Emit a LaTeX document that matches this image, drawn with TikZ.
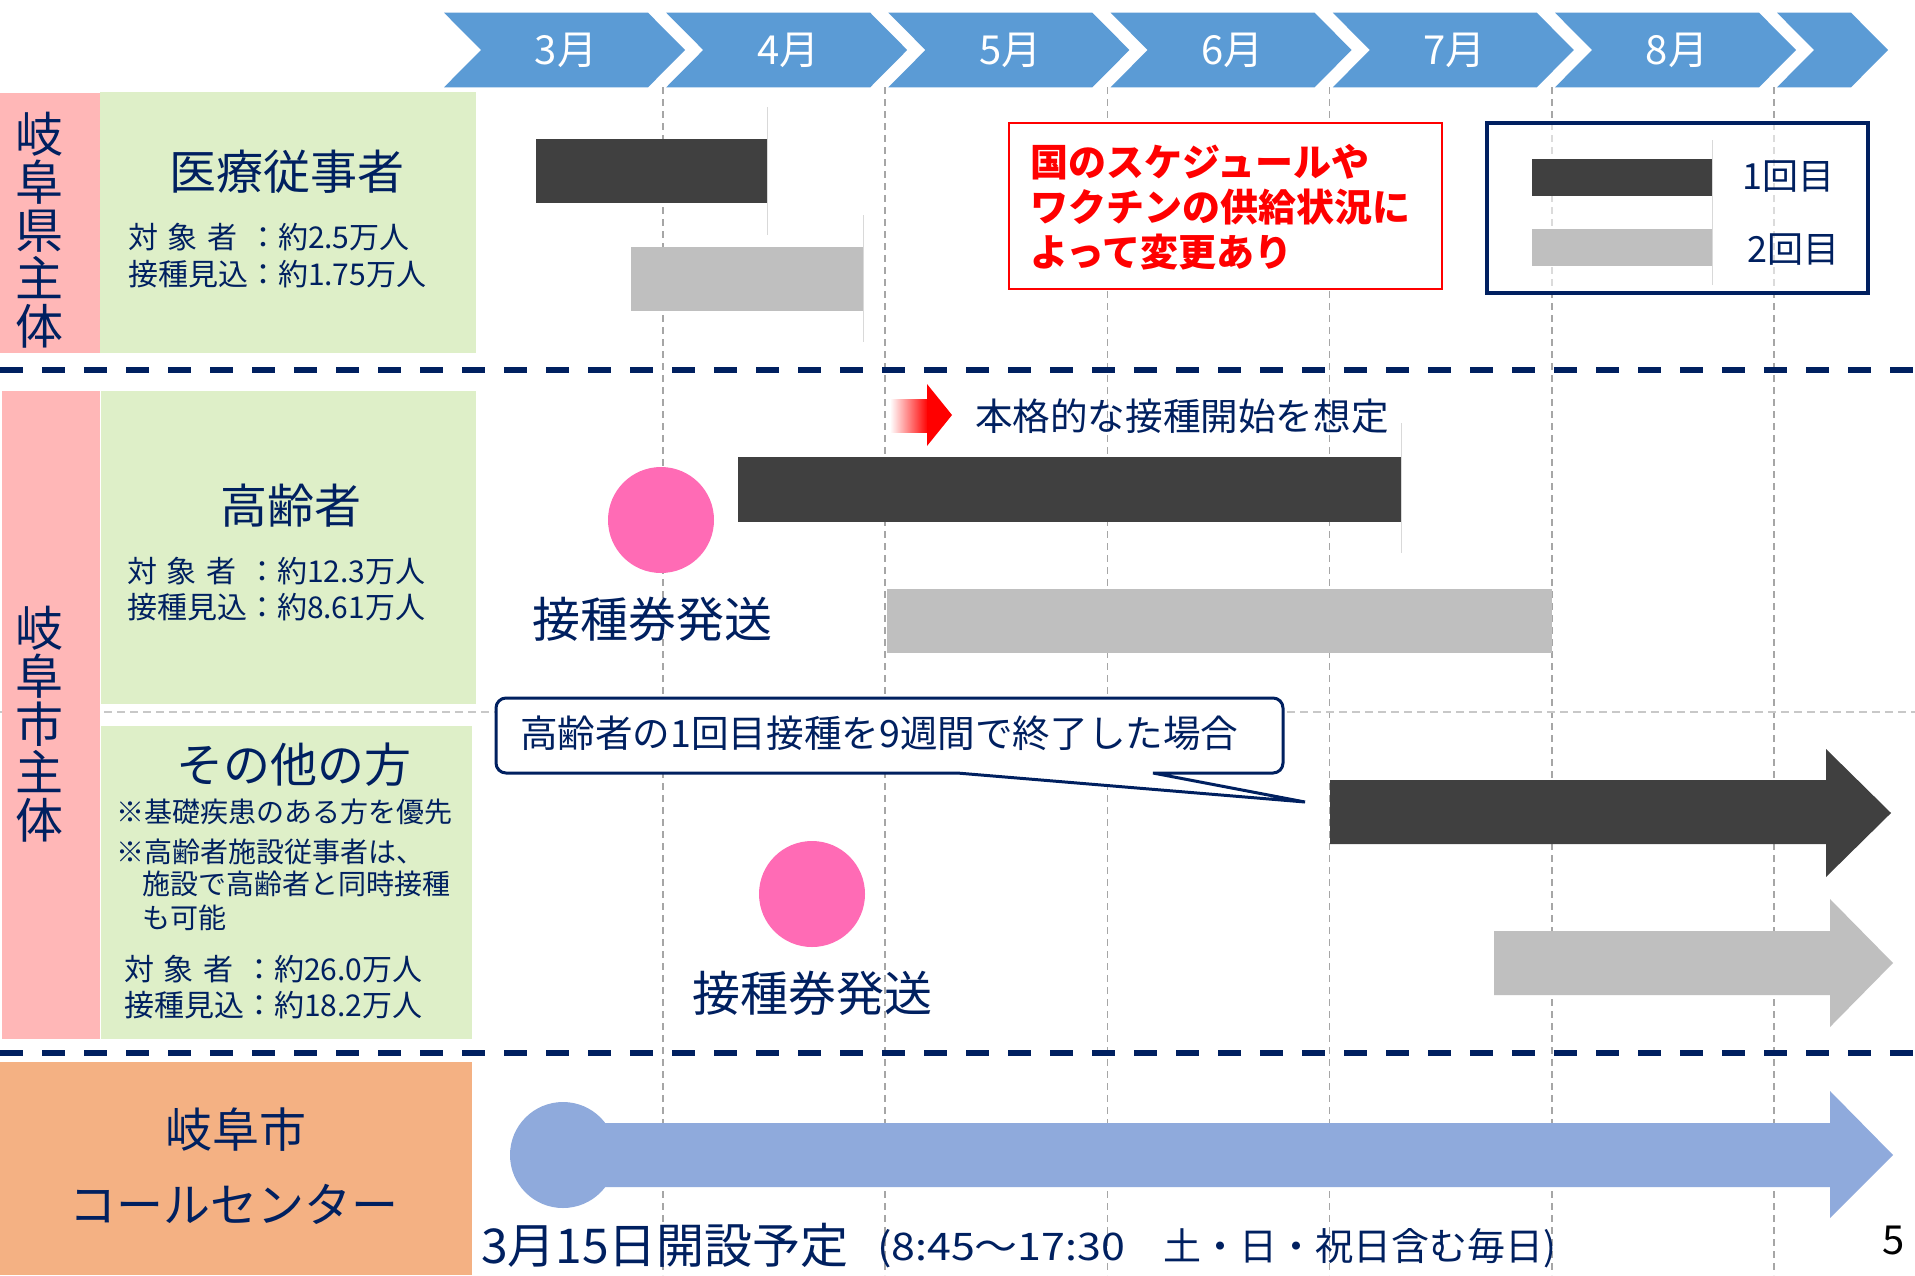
\documentclass[tikz,border=0pt]{standalone}
\usepackage{fontspec}
\setmainfont{Noto Sans CJK JP}
\definecolor{navy}{HTML}{002060}
\definecolor{chev}{HTML}{5B9BD5}
\definecolor{darkbar}{HTML}{404040}
\definecolor{graybar}{HTML}{BFBFBF}
\definecolor{pinkcol}{HTML}{FFB7B7}
\definecolor{greenbox}{HTML}{DEEFC8}
\definecolor{orangebox}{HTML}{F4B183}
\definecolor{bluearrow}{HTML}{8FAADC}
\definecolor{hotpink}{HTML}{FF6BB5}
\definecolor{gridgray}{HTML}{A6A6A6}
\definecolor{subgray}{HTML}{C8C8C8}
\definecolor{faint}{HTML}{D9D9D9}
\newcommand\fsz[2]{\fontsize{#1}{#2}\selectfont}
\newcommand\taisho{\makebox[4em][s]{対\hfill 象\hfill 者\hfill\mbox{}}}
\tikzset{
  every node/.style={inner sep=0pt, outer sep=0pt},
  month/.style={text=white, font=\fsz{20}{24}},
  heading/.style={text=navy, font=\fsz{23.5}{28}},
  info/.style={text=navy, font=\fsz{15}{18}, anchor=west},
  note/.style={text=navy, font=\fsz{14}{17}, anchor=west},
  vlabel/.style={text=navy, font=\fsz{24}{24}, align=center},
  gridline/.style={draw=gridgray, line width=0.8pt, dash pattern=on 3.5pt off 2.5pt},
  sepline/.style={draw=navy, line width=3pt, dash pattern=on 11.65pt off 9.35pt},
  subsep/.style={draw=subgray, line width=1pt, dash pattern=on 4pt off 2.5pt},
  endline/.style={draw=faint, line width=0.5pt},
  tickettext/.style={text=navy, font=\fsz{24}{28}},
  midtext/.style={text=navy, font=\fsz{18.8}{22}, anchor=west},
  legendtext/.style={text=navy, font=\fsz{18}{22}},
}
\begin{document}
\begin{tikzpicture}[x=0.5pt, y=-0.5pt]
\useasboundingbox (0,0) rectangle (1915,1275);
\fill[white] (0,0) rectangle (1915,1275);

% grid
\foreach \gx in {663,885.2,1107.4,1329.6,1551.8,1774} {
  \draw[gridline] (\gx,87) -- (\gx,1275);
}
\draw[subsep] (0,712) -- (1915,712);

% chevrons
\foreach \m [count=\i from 0] in {3,4,5,6,7,8} {
  \pgfmathsetmacro\xo{444+222.2*\i}
  \fill[chev] (\xo,12.7) -- ++(204,0) -- ++(37,37.3) -- ++(-37,37.3) -- ++(-204,0) -- ++(37,-37.3) -- cycle;
  \node[month] (m\m) at (\xo+122,50) {\m 月};
}
\fill[chev] (1777,12.7) -- (1851,12.7) -- (1888,50) -- (1851,87.3) -- (1777,87.3) -- (1814,50) -- cycle;

% left columns
\fill[pinkcol] (0,93) rectangle (100,353);
\fill[greenbox] (100,92) rectangle (476,353);
\fill[pinkcol] (2,391) rectangle (100,1039);
\fill[greenbox] (101,391) rectangle (476,704);
\fill[greenbox] (101,726) rectangle (472,1039);
\fill[orangebox] (0,1062) rectangle (472,1275);

% separators
\draw[sepline] (0,370) -- (1915,370);
\draw[sepline] (0,1053) -- (1915,1053);

% vertical labels
\node[vlabel] (ken) at (39,230.5) {岐\\阜\\県\\主\\体};
\node[vlabel] (shi) at (40,724.5) {岐\\阜\\市\\主\\体};

% group texts
\node[heading] (iryo) at (287,172) {医療従事者};
\node[info] (iryoA) at (128,237) {\taisho：約2.5万人};
\node[info] (iryoB) at (128,274) {接種見込：約1.75万人};

\node[heading] (kourei) at (291,506) {高齢者};
\node[info] (koureiA) at (127,571) {\taisho：約12.3万人};
\node[info] (koureiB) at (127,607) {接種見込：約8.61万人};

\node[heading] (sonota) at (294,765) {その他の方};
\node[note] (noteA) at (116,812) {※基礎疾患のある方を優先};
\node[note] (noteB) at (116,852) {※高齢者施設従事者は、};
\node[note] (noteC) at (142,884) {施設で高齢者と同時接種};
\node[note] (noteD) at (142,918) {も可能};
\node[info] (sonotaA) at (124,969) {\taisho：約26.0万人};
\node[info] (sonotaB) at (124,1005) {接種見込：約18.2万人};

\node[heading] (gifu) at (236,1130) {岐阜市};
\node[heading] (callc) at (234,1204) {コールセンター};

% medical bars
\fill[darkbar] (536,139) rectangle (767,203);
\draw[endline] (767,107) -- (767,235);
\fill[graybar] (631,247) rectangle (863,311);
\draw[endline] (863,215) -- (863,342);

% red note box
\draw[red, line width=1.4pt, fill=white] (1009,123) rectangle (1442,289);
\node[anchor=west, text=red, font={\fsz{19}{22.5}\bfseries}, align=left] (change) at (1030,207) {国のスケジュールや\\ワクチンの供給状況に\\よって変更あり};

% legend
\draw[navy, line width=1.75pt, fill=white, fill opacity=0.6] (1487,123) rectangle (1868,293);
\fill[darkbar] (1532,159) rectangle (1712,196);
\fill[graybar] (1532,229) rectangle (1712,266);
\draw[endline] (1712,140) -- (1712,285);
\node[legendtext] (leg1) at (1788,177) {1回目};
\node[legendtext] (leg2) at (1793,250) {2回目};

% elderly
\shade[left color=white, right color=red] (890,399) rectangle (928,432);
\fill[red] (927,384) -- (952,415) -- (927,446) -- cycle;
\node[midtext] (honkaku) at (975,416) {本格的な接種開始を想定};
\fill[darkbar] (738,457) rectangle (1401,522);
\draw[endline] (1401,423) -- (1401,553);
\fill[graybar] (887,589) rectangle (1552,653);
\fill[hotpink] (661,520) circle[radius=53];
\node[tickettext] (ticketA) at (652,619) {接種券発送};

% callout
\draw[navy, line width=1.5pt, fill=white] (900,773) [rounded corners=5pt] -- (496,773) -- (496,698) -- (1283,698) -- (1283,773) -- (1200,773) [sharp corners] -- (1153,773) -- (1305,802) -- (957,773) -- cycle;
\node[midtext] (callout) at (520,733) {高齢者の1回目接種を9週間で終了した場合};

% others
\fill[darkbar] (1330,780) -- (1826,780) -- (1826,749) -- (1891,813) -- (1826,877) -- (1826,844) -- (1330,844) -- cycle;
\fill[graybar] (1494,931) -- (1830,931) -- (1830,899) -- (1893,963) -- (1830,1027) -- (1830,995) -- (1494,995) -- cycle;
\fill[hotpink] (812,894) circle[radius=53];
\node[tickettext] (ticketB) at (812,993) {接種券発送};

% call center
\fill[bluearrow] (563,1123) -- (1830,1123) -- (1830,1091) -- (1893,1155) -- (1830,1218) -- (1830,1187) -- (563,1187) -- cycle;
\fill[bluearrow] (563,1155) circle[radius=53];
\node[anchor=west, text=navy, font=\fsz{24}{28}] (open) at (481,1245) {3月15日開設予定};
\node[anchor=west, text=navy, font=\fsz{19}{22}] (hours) at (877,1248) {\scalebox{1.13}[1]{(8:45～17:30}　土・日・祝日含む毎日)};
\node[font=\fsz{20}{24}] (page) at (1894,1240) {5};
\end{tikzpicture}
\end{document}
